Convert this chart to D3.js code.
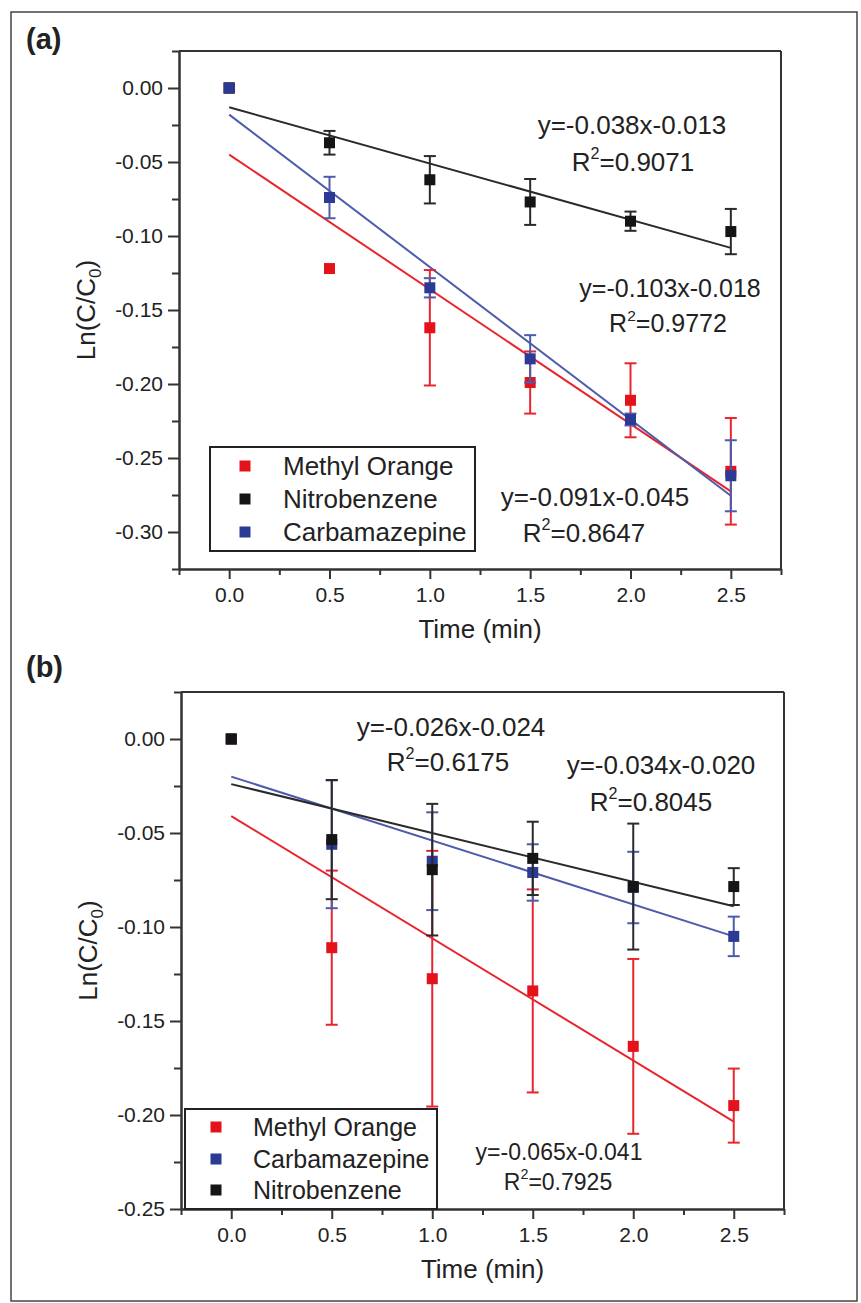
<!DOCTYPE html>
<html>
<head>
<meta charset="utf-8">
<script src="https://cdn.jsdelivr.net/npm/d3@7"></script>
<style>
  html, body { margin: 0; padding: 0; background: #fff; }
  svg { display: block; font-family: "Liberation Sans", Arial, sans-serif; }
</style>
</head>
<body>
<svg id="chart" width="861" height="1303"></svg>
<script>
// ---------- data ----------
const times = [0, 0.5, 1.0, 1.5, 2.0, 2.5];
const seriesNames = ["Methyl Orange", "Nitrobenzene", "Carbamazepine"];

// Panel (a)
const moA    = [0, -0.122, -0.162, -0.199, -0.211, -0.259];
const moAErr = [0, 0, 0.039, 0.021, 0.025, 0.036];
const nbA    = [0, -0.037, -0.062, -0.077, -0.090, -0.097];
const nbAErr = [0, 0.008, 0.016, 0.0155, 0.0065, 0.0153];
const cbA    = [0, -0.074, -0.135, -0.183, -0.224, -0.262];
const cbAErr = [0, 0.014, 0.0065, 0.016, 0.004, 0.024];
const fitSlopeA     = [-0.091, -0.038, -0.103];   // MO, NB, CBZ
const fitInterceptA = [-0.045, -0.013, -0.018];
const eqTextA = ["y=-0.091x-0.045", "y=-0.038x-0.013", "y=-0.103x-0.018"];
const r2TextA = ["=0.8647", "=0.9071", "=0.9772"];

// Panel (b)
const moB    = [0, -0.111, -0.1275, -0.134, -0.1635, -0.195];
const moBErr = [0, 0.041, 0.068, 0.054, 0.0465, 0.0197];
const nbB    = [0, -0.0535, -0.0695, -0.0635, -0.0785, -0.0785];
const nbBErr = [0, 0.0317, 0.035, 0.0195, 0.0335, 0.0098];
const cbB    = [0, -0.056, -0.065, -0.071, -0.079, -0.105];
const cbBErr = [0, 0.034, 0.026, 0.015, 0.019, 0.0105];
const fitSlopeB     = [-0.065, -0.026, -0.034];   // MO, NB, CBZ
const fitInterceptB = [-0.041, -0.024, -0.020];
const eqTextB = ["y=-0.065x-0.041", "y=-0.026x-0.024", "y=-0.034x-0.020"];
const r2TextB = ["=0.7925", "=0.6175", "=0.8045"];

// Ticks
const xTicks = [0, 0.5, 1.0, 1.5, 2.0, 2.5];
const xTickLabels = ["0.0", "0.5", "1.0", "1.5", "2.0", "2.5"];
const xMinorTicks = [-0.25, 0.25, 0.75, 1.25, 1.75, 2.25, 2.75];
const yTicksA = [0, -0.05, -0.10, -0.15, -0.20, -0.25, -0.30];
const yTickLabelsA = ["0.00", "-0.05", "-0.10", "-0.15", "-0.20", "-0.25", "-0.30"];
const yMinorTicksA = [0.025, -0.025, -0.075, -0.125, -0.175, -0.225, -0.275, -0.325];
const yTicksB = [0, -0.05, -0.10, -0.15, -0.20, -0.25];
const yTickLabelsB = ["0.00", "-0.05", "-0.10", "-0.15", "-0.20", "-0.25"];
const yMinorTicksB = [0.025, -0.025, -0.075, -0.125, -0.175, -0.225];

// ---------- styles ----------
const COL = { mo: "#e3121b", nb: "#151515", cb: "#2b3a94" };
const LINECOL = { mo: "#e8252d", nb: "#2a2a2a", cb: "#4d5bab" };
const AXIS = "#333";
const TXT = "#222";

const svg = d3.select("#chart");

// outer frame
svg.append("rect").attr("x", 11).attr("y", 12).attr("width", 846).attr("height", 1289)
  .attr("fill", "none").attr("stroke", "#444").attr("stroke-width", 1.5);

function drawPanel(cfg) {
  const g = svg.append("g");
  const x = d3.scaleLinear().domain([-0.25, 2.75]).range([cfg.left, cfg.right]);
  const y = d3.scaleLinear().domain(cfg.yDomain).range([cfg.top, cfg.bottom]);

  // frame top and right
  g.append("line").attr("x1", cfg.left).attr("x2", cfg.right).attr("y1", cfg.top).attr("y2", cfg.top)
    .attr("stroke", AXIS).attr("stroke-width", 2);
  g.append("line").attr("x1", cfg.right).attr("x2", cfg.right).attr("y1", cfg.top).attr("y2", cfg.bottom)
    .attr("stroke", AXIS).attr("stroke-width", 2);

  // y axis major
  const yAx = g.append("g").attr("transform", `translate(${cfg.left},0)`)
    .call(d3.axisLeft(y).tickValues(cfg.yTicks).tickSize(11).tickSizeOuter(0)
      .tickFormat((d, i) => cfg.yLabels[i]).tickPadding(5));
  // y minor
  const yMin = g.append("g").attr("transform", `translate(${cfg.left},0)`)
    .call(d3.axisLeft(y).tickValues(cfg.yMinor).tickSize(7).tickSizeOuter(0).tickFormat(""));
  // x axis major
  const xAx = g.append("g").attr("transform", `translate(0,${cfg.bottom})`)
    .call(d3.axisBottom(x).tickValues(xTicks).tickSize(10).tickSizeOuter(0)
      .tickFormat((d, i) => xTickLabels[i]).tickPadding(8));
  const xMin = g.append("g").attr("transform", `translate(0,${cfg.bottom})`)
    .call(d3.axisBottom(x).tickValues(xMinorTicks).tickSize(6).tickSizeOuter(0).tickFormat(""));

  [yAx, yMin, xAx, xMin].forEach(a => {
    a.select(".domain").attr("stroke", AXIS).attr("stroke-width", 2);
    a.selectAll(".tick line").attr("stroke", AXIS).attr("stroke-width", 2);
    a.selectAll(".tick text").attr("fill", TXT).attr("font-size", 21)
      .attr("font-family", '"Liberation Sans", Arial, sans-serif');
  });

  // axis titles
  g.append("text").attr("x", (cfg.left + cfg.right) / 2).attr("y", cfg.bottom + 69)
    .attr("text-anchor", "middle").attr("font-size", 26).attr("fill", TXT).text("Time (min)");
  const yl = g.append("text")
    .attr("transform", `translate(${cfg.left - 84},${(cfg.top + cfg.bottom) / 2}) rotate(-90)`)
    .attr("text-anchor", "middle").attr("font-size", 26).attr("fill", TXT);
  yl.append("tspan").text("Ln(C/C");
  yl.append("tspan").attr("font-size", 17).attr("dy", 6).text("0");
  yl.append("tspan").attr("dy", -6).text(")");

  // panel label
  g.append("text").attr("x", 26).attr("y", cfg.labelY).attr("font-size", 29).attr("font-weight", "bold")
    .attr("fill", TXT).text(cfg.label);

  // fit lines
  cfg.series.forEach(s => {
    g.append("line")
      .attr("x1", x(0)).attr("y1", y(s.intercept))
      .attr("x2", x(2.5)).attr("y2", y(s.slope * 2.5 + s.intercept))
      .attr("stroke", s.lineColor).attr("stroke-width", 2);
  });

  // points with error bars
  cfg.series.forEach(s => {
    const sg = g.append("g");
    times.forEach((t, i) => {
      const e = s.err[i];
      if (e > 0) {
        const cx = x(t);
        sg.append("line").attr("x1", cx).attr("x2", cx).attr("y1", y(s.values[i] + e)).attr("y2", y(s.values[i] - e))
          .attr("stroke", s.lineColor).attr("stroke-width", 2);
        [s.values[i] + e, s.values[i] - e].forEach(v => {
          sg.append("line").attr("x1", cx - 6).attr("x2", cx + 6).attr("y1", y(v)).attr("y2", y(v))
            .attr("stroke", s.lineColor).attr("stroke-width", 2);
        });
      }
    });
    sg.selectAll("rect").data(times).join("rect")
      .attr("x", d => x(d) - 5.5).attr("y", (d, i) => y(s.values[i]) - 5.5)
      .attr("width", 11).attr("height", 11).attr("fill", s.color);
  });

  // equations
  cfg.eqs.forEach(q => {
    g.append("text").attr("x", q.x).attr("y", q.y).attr("text-anchor", "middle")
      .attr("dominant-baseline", "central").attr("font-size", q.size).attr("fill", TXT).text(q.eq);
    const t = g.append("text").attr("x", q.rx).attr("y", q.y + q.dy).attr("text-anchor", "middle")
      .attr("dominant-baseline", "central").attr("font-size", q.size).attr("fill", TXT);
    t.append("tspan").text("R");
    t.append("tspan").attr("font-size", q.size * 0.62).attr("dy", -q.size * 0.33).text("2");
    t.append("tspan").attr("dy", q.size * 0.33).text(q.r2);
  });

  // legend
  const L = cfg.legend;
  g.append("rect").attr("x", L.x).attr("y", L.y).attr("width", L.w).attr("height", L.h)
    .attr("fill", "#fff").attr("stroke", "#222").attr("stroke-width", 2);
  L.items.forEach((it, i) => {
    const cy = L.rowY[i];
    g.append("rect").attr("x", L.mx - 5.5).attr("y", cy - 5.5).attr("width", 11).attr("height", 11).attr("fill", it.color);
    g.append("text").attr("x", L.tx).attr("y", cy).attr("dominant-baseline", "central")
      .attr("font-size", L.size).attr("fill", TXT).text(it.name);
  });
}

// Panel (a)
drawPanel({
  left: 179, right: 781, top: 51, bottom: 569, yDomain: [0.025, -0.325],
  yTicks: yTicksA, yLabels: yTickLabelsA, yMinor: yMinorTicksA,
  label: "(a)", labelY: 49,
  series: [
    { values: moA, err: moAErr, color: COL.mo, lineColor: LINECOL.mo, slope: fitSlopeA[0], intercept: fitInterceptA[0] },
    { values: nbA, err: nbAErr, color: COL.nb, lineColor: LINECOL.nb, slope: fitSlopeA[1], intercept: fitInterceptA[1] },
    { values: cbA, err: cbAErr, color: COL.cb, lineColor: LINECOL.cb, slope: fitSlopeA[2], intercept: fitInterceptA[2] }
  ],
  eqs: [
    { eq: eqTextA[1], r2: r2TextA[1], x: 632, rx: 633, y: 125, dy: 37, size: 26 },
    { eq: eqTextA[2], r2: r2TextA[2], x: 670, rx: 668, y: 288, dy: 35, size: 25 },
    { eq: eqTextA[0], r2: r2TextA[0], x: 595, rx: 584, y: 497, dy: 36, size: 26 }
  ],
  legend: {
    x: 210, y: 447, w: 265, h: 104, mx: 245, tx: 283, size: 26, rowY: [466, 499, 532],
    items: [
      { name: seriesNames[0], color: COL.mo },
      { name: seriesNames[1], color: COL.nb },
      { name: seriesNames[2], color: COL.cb }
    ]
  }
});

// Panel (b)
drawPanel({
  left: 181, right: 784, top: 692, bottom: 1209, yDomain: [0.025, -0.25],
  yTicks: yTicksB, yLabels: yTickLabelsB, yMinor: yMinorTicksB,
  label: "(b)", labelY: 677,
  series: [
    { values: moB, err: moBErr, color: COL.mo, lineColor: LINECOL.mo, slope: fitSlopeB[0], intercept: fitInterceptB[0] },
    { values: cbB, err: cbBErr, color: COL.cb, lineColor: LINECOL.cb, slope: fitSlopeB[2], intercept: fitInterceptB[2] },
    { values: nbB, err: nbBErr, color: COL.nb, lineColor: LINECOL.nb, slope: fitSlopeB[1], intercept: fitInterceptB[1] }
  ],
  eqs: [
    { eq: eqTextB[1], r2: r2TextB[1], x: 451, rx: 448, y: 727, dy: 35, size: 26 },
    { eq: eqTextB[2], r2: r2TextB[2], x: 661, rx: 651, y: 765, dy: 37, size: 26 },
    { eq: eqTextB[0], r2: r2TextB[0], x: 559, rx: 558, y: 1152, dy: 30, size: 23 }
  ],
  legend: {
    x: 185, y: 1109, w: 252, h: 100, mx: 216, tx: 253, size: 25, rowY: [1127, 1159, 1190],
    items: [
      { name: seriesNames[0], color: COL.mo },
      { name: seriesNames[2], color: COL.cb },
      { name: seriesNames[1], color: COL.nb }
    ]
  }
});
</script>
</body>
</html>
